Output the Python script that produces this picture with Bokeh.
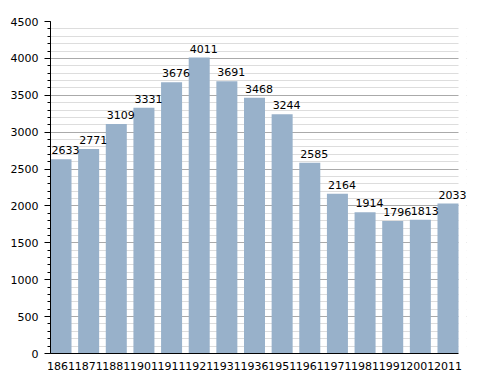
from bokeh.plotting import figure
from bokeh.models import (ColumnDataSource, Range1d, SingleIntervalTicker, LabelSet,
                          FixedTicker, BoxAnnotation)
from bokeh.core.properties import value
from bokeh.embed import file_html
from bokeh.resources import INLINE

years = ["1861", "1871", "1881", "1901", "1911", "1921", "1931", "1936",
         "1951", "1961", "1971", "1981", "1991", "2001", "2011"]
population = [2633, 2771, 3109, 3331, 3676, 4011, 3691, 3468,
              3244, 2585, 2164, 1914, 1796, 1813, 2033]

idx = list(range(len(years)))
BAR_W = 0.76
n = len(years)
x_lo = -BAR_W / 2
x_hi = (n - 1) + BAR_W / 2
extra = 8 / 27.64  # room on the right so the last value label is not clipped

src = ColumnDataSource(dict(x=idx, y=population, lab=[str(v) for v in population],
                            xl=[i - BAR_W / 2 for i in idx]))

p = figure(x_range=Range1d(x_lo, x_hi + extra), y_range=Range1d(0, 4500),
           width=480, height=372, output_backend="svg", toolbar_location=None,
           min_border_left=50, min_border_top=21, min_border_right=14, min_border_bottom=10)
p.outline_line_color = None
p.background_fill_color = "white"

p.ygrid.grid_line_color = "#aaaaaa"
p.ygrid.minor_grid_line_color = "#dddddd"
p.xgrid.grid_line_color = None

# white mask hiding the grid beyond the last bar
p.add_layout(BoxAnnotation(left=x_hi, fill_color="white", fill_alpha=1.0,
                           line_color=None, level="underlay"))

p.vbar(x="x", top="y", width=BAR_W, source=src, fill_color="#98b1ca", line_color=None)

labels = LabelSet(x="xl", y="y", text="lab", source=src,
                  text_align="left", text_baseline="alphabetic", y_offset=5, x_offset=1,
                  text_font_size="11px", text_font=value("DejaVu Sans"), text_color="black")
p.add_layout(labels)

p.yaxis.ticker = SingleIntervalTicker(interval=500, num_minor_ticks=5)
p.yaxis.major_label_text_font = "DejaVu Sans"
p.yaxis.major_label_text_font_size = "11px"
p.yaxis.major_label_text_color = "black"
p.yaxis.axis_line_color = "black"
p.yaxis.major_tick_in = 0
p.yaxis.major_tick_out = 6
p.yaxis.minor_tick_in = 0
p.yaxis.minor_tick_out = 3
p.yaxis.major_tick_line_color = "black"
p.yaxis.minor_tick_line_color = "black"
p.yaxis.major_label_standoff = 6

p.xaxis.ticker = FixedTicker(ticks=idx, minor_ticks=[])
p.xaxis.major_label_overrides = {i: y for i, y in zip(idx, years)}
p.xaxis.bounds = (x_lo, x_hi)
p.xaxis.major_label_text_font = "DejaVu Sans"
p.xaxis.major_label_text_font_size = "11px"
p.xaxis.major_label_text_color = "black"
p.xaxis.axis_line_color = "black"
p.xaxis.major_tick_line_color = None
p.xaxis.minor_tick_line_color = None
p.xaxis.major_label_standoff = 2

open("out.html", "w").write(file_html(p, INLINE))
